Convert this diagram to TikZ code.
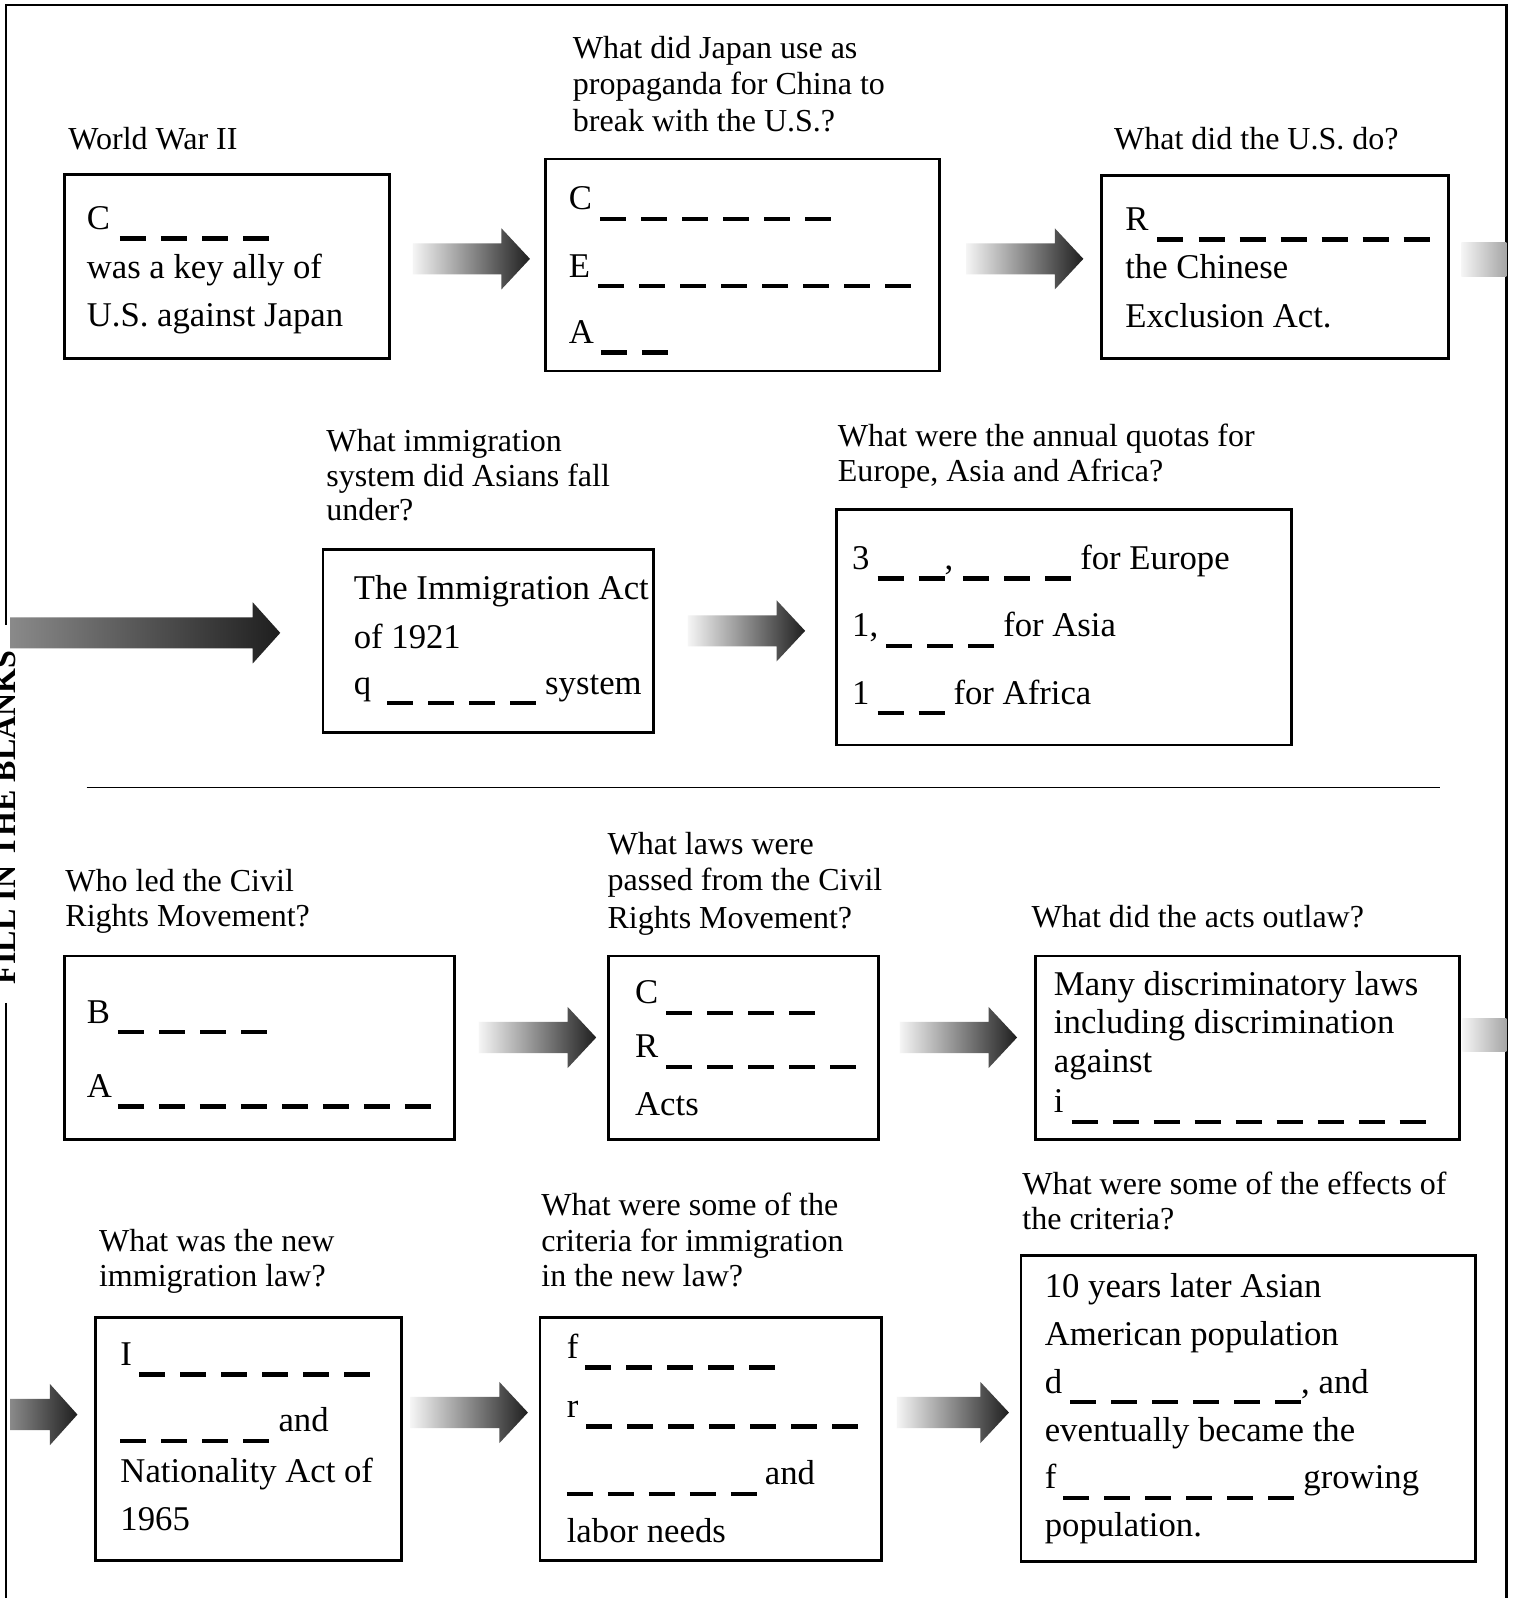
\documentclass[tikz,border=0pt]{standalone}
\usepackage{fontspec}
\setmainfont{Liberation Serif}
\usetikzlibrary{fit}
\newcount\blcnt
\newcommand\dsh{\rule[-11.25pt]{26pt}{4.5pt}}
\newcommand\blanks[1]{\blcnt=#1\relax\dsh\loop\ifnum\blcnt>1 \advance\blcnt by -1\relax\hspace{15pt}\dsh\repeat}
\newcommand\qtxt{\fontsize{32pt}{36pt}\selectfont}
\newcommand\btxt{\fontsize{34.7pt}{40pt}\selectfont}
% x0, xbase, xtip, ycenter, left colour, right colour
\newcommand\garrow[6]{\shade[left color=#5, right color=#6] (#1,#4-15.3) -- (#2,#4-15.3) -- (#2,#4-30) -- (#3,#4) -- (#2,#4+30) -- (#2,#4+15.3) -- (#1,#4+15.3) -- cycle;}
\tikzset{
  qtext/.style={anchor=base west, inner sep=0pt, font=\qtxt},
  btext/.style={anchor=base west, inner sep=0pt, font=\btxt},
  boxnode/.style={draw, line width=2.6pt, fill=white, inner sep=0pt},
  frameline/.style={line width=2.6pt},
}
\begin{document}
\begin{tikzpicture}[x=1.018855pt,y=-1.018855pt]
\useasboundingbox (0,0) rectangle (1485,1568);
\clip (0,0) rectangle (1485,1568);
\fill[white] (0,0) rectangle (1485,1568);

% outer frame
\draw[frameline] (6,613) -- (6,5) -- (1478,5) -- (1478,1568);
\draw[frameline] (6,984) -- (6,1568);
\node[rotate=90, anchor=base, inner sep=0pt, font=\fontsize{32pt}{34pt}\selectfont\bfseries] (side) at (15.2,802) {FILL IN THE BLANKS};

% separator
\draw[line width=1.2pt] (85,773) -- (1413,773);

% ---------- boxes ----------
\node[boxnode, fit={(63,171) (382,352)}] (b11) {};
\node[boxnode, fit={(535,156) (922,364)}] (b12) {};
\node[boxnode, fit={(1081,172) (1421,352)}] (b13) {};
\node[boxnode, fit={(317,539) (641,719)}] (b21) {};
\node[boxnode, fit={(821,500) (1267,731)}] (b22) {};
\node[boxnode, fit={(63,938) (446,1118)}] (b31) {};
\node[boxnode, fit={(597,938) (862,1118)}] (b32) {};
\node[boxnode, fit={(1016,938) (1432,1118)}] (b33) {};
\node[boxnode, fit={(94,1293) (394,1531)}] (b41) {};
\node[boxnode, fit={(530,1293) (865,1531)}] (b42) {};
\node[boxnode, fit={(1002,1232) (1448,1532)}] (b43) {};

% ---------- arrows ----------
\garrow{405}{492}{520}{254}{black!4}{black!88}
\garrow{948}{1035}{1063}{254}{black!4}{black!88}
\shade[left color=black!4, right color=black!35] (1434,238) rectangle (1478,271);
\garrow{10}{248}{275}{621}{black!46}{black!88}
\garrow{675}{762}{790}{619}{black!4}{black!88}
\garrow{470}{557}{585}{1018}{black!4}{black!88}
\garrow{883}{970}{998}{1018}{black!4}{black!88}
\shade[left color=black!4, right color=black!35] (1435,999) rectangle (1478,1032);
\garrow{10}{49}{76}{1388}{black!46}{black!88}
\garrow{403}{490}{518}{1386}{black!4}{black!88}
\garrow{880}{962}{990}{1386}{black!4}{black!88}

% ---------- row 1 ----------
\node[qtext] (q11) at (67,147) {World War II};
\node[qtext] (q12a) at (562,57) {What did Japan use as};
\node[qtext] (q12b) at (562,93) {propaganda for China to};
\node[qtext] (q12c) at (562,129) {break with the U.S.?};
\node[qtext] (q13) at (1093,147) {What did the U.S. do?};

\node[btext] (t11a) at (85,225) {C\hspace{10pt}\blanks{4}};
\node[btext] (t11b) at (85,273) {was a key ally of};
\node[btext] (t11c) at (85,320) {U.S. against Japan};

\node[btext] (t12a) at (558,206) {C\hspace{8pt}\blanks{6}};
\node[btext] (t12b) at (558,272) {E\hspace{8pt}\blanks{8}};
\node[btext] (t12c) at (558,337) {A\hspace{7pt}\blanks{2}};

\node[btext] (t13a) at (1104,226) {R\hspace{9pt}\blanks{7}};
\node[btext] (t13b) at (1104,273) {the Chinese};
\node[btext] (t13c) at (1104,321) {Exclusion Act.};

% ---------- row 2 ----------
\node[qtext] (q21a) at (320,443) {What immigration};
\node[qtext] (q21b) at (320,477) {system did Asians fall};
\node[qtext] (q21c) at (320,511) {under?};
\node[qtext] (q22a) at (822,438) {What were the annual quotas for};
\node[qtext] (q22b) at (822,472) {Europe, Asia and Africa?};

\node[btext] (t21a) at (347,588) {The Immigration Act};
\node[btext] (t21b) at (347,636) {of 1921};
\node[btext] (t21c) at (347,681) {q\hspace{16pt}\blanks{4}\hspace{9pt}system};

\node[btext] (t22a) at (836,559) {3\hspace{8pt}\blanks{2},\hspace{10pt}\blanks{3}\hspace{9pt}for Europe};
\node[btext] (t22b) at (836,625) {1,\hspace{8pt}\blanks{3}\hspace{9pt}for Asia};
\node[btext] (t22c) at (836,691) {1\hspace{8pt}\blanks{2}\hspace{9pt}for Africa};

% ---------- row 3 ----------
\node[qtext] (q31a) at (64,875) {Who led the Civil};
\node[qtext] (q31b) at (64,909) {Rights Movement?};
\node[qtext] (q32a) at (596,838) {What laws were};
\node[qtext] (q32b) at (596,874) {passed from the Civil};
\node[qtext] (q32c) at (596,911) {Rights Movement?};
\node[qtext] (q33) at (1012,910) {What did the acts outlaw?};

\node[btext] (t31a) at (85,1004) {B\hspace{8pt}\blanks{4}};
\node[btext] (t31b) at (85,1077) {A\hspace{6pt}\blanks{8}};

\node[btext] (t32a) at (623,985) {C\hspace{8pt}\blanks{4}};
\node[btext] (t32b) at (623,1038) {R\hspace{8pt}\blanks{5}};
\node[btext] (t32c) at (623,1095) {Acts};

\node[btext] (t33a) at (1034,977) {Many discriminatory laws};
\node[btext] (t33b) at (1034,1014) {including discrimination};
\node[btext] (t33c) at (1034,1052) {against};
\node[btext] (t33d) at (1034,1092) {i\hspace{8pt}\blanks{9}};

% ---------- row 4 ----------
\node[qtext] (q41a) at (97,1228) {What was the new};
\node[qtext] (q41b) at (97,1262) {immigration law?};
\node[qtext] (q42a) at (531,1193) {What were some of the};
\node[qtext] (q42b) at (531,1228) {criteria for immigration};
\node[qtext] (q42c) at (531,1262) {in the new law?};
\node[qtext] (q43a) at (1003,1172) {What were some of the effects of};
\node[qtext] (q43b) at (1003,1206) {the criteria?};

\node[btext] (t41a) at (118,1340) {I\hspace{7pt}\blanks{6}};
\node[btext] (t41b) at (118,1405) {\blanks{4}\hspace{9pt}and};
\node[btext] (t41c) at (118,1455) {Nationality Act of};
\node[btext] (t41d) at (118,1502) {1965};

\node[btext] (t42a) at (556,1333) {f\hspace{7pt}\blanks{5}};
\node[btext] (t42b) at (556,1391) {r\hspace{8pt}\blanks{7}};
\node[btext] (t42c) at (556,1457) {\blanks{5}\hspace{8pt}and};
\node[btext] (t42d) at (556,1514) {labor needs};

\node[btext] (t43a) at (1025,1273) {10 years later Asian};
\node[btext] (t43b) at (1025,1320) {American population};
\node[btext] (t43c) at (1025,1367) {d\hspace{8pt}\blanks{6}, and};
\node[btext] (t43d) at (1025,1414) {eventually became the};
\node[btext] (t43e) at (1025,1461) {f\hspace{7pt}\blanks{6}\hspace{9pt}growing};
\node[btext] (t43f) at (1025,1508) {population.};
\end{tikzpicture}
\end{document}
